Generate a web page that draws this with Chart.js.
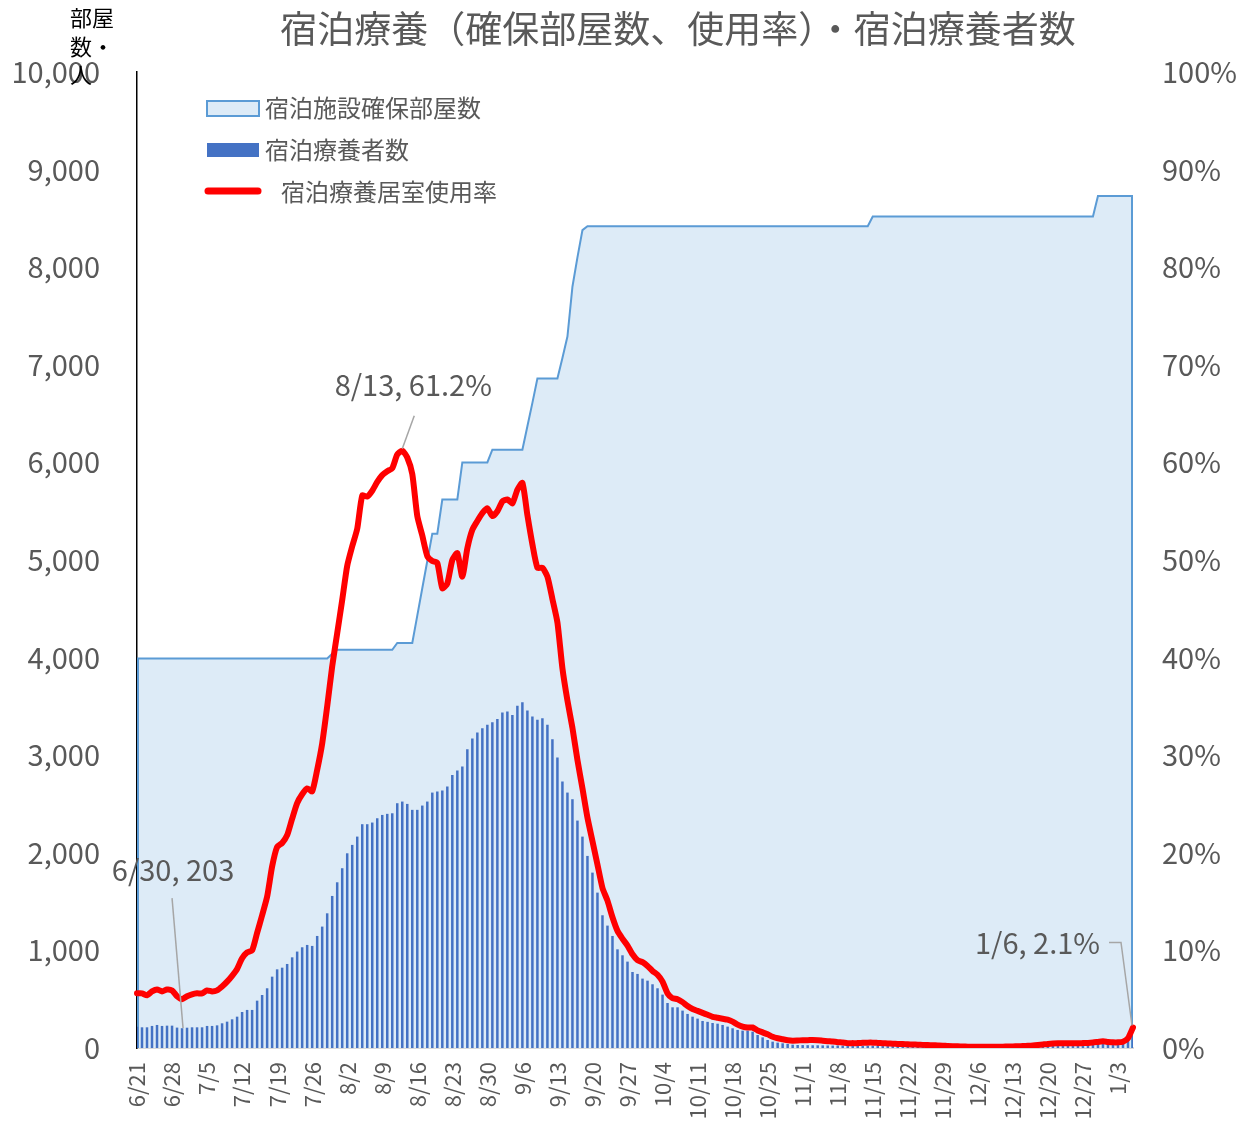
<!DOCTYPE html>
<html lang="ja">
<head>
<meta charset="utf-8">
<script src="https://cdn.jsdelivr.net/npm/chart.js@4.4.1/dist/chart.umd.min.js"></script>
<style>
  html, body { margin: 0; padding: 0; background: #fff; }
</style>
</head>
<body>
<canvas id="chart1" width="1237" height="1127"></canvas>
<script>
const FONT = "'Noto Sans CJK JP', 'Noto Sans', sans-serif";

// calendar: [month, first day, last day]
const monthSpans = [[6, 21, 30], [7, 1, 31], [8, 1, 31], [9, 1, 30], [10, 1, 31], [11, 1, 30], [12, 1, 31], [1, 1, 6]];
const dayLabels = [];
for (const [m, d0, d1] of monthSpans) {
    for (let d = d0; d <= d1; d++) dayLabels.push(m + '/' + d);
}

// 宿泊施設確保部屋数
const rooms = [
    3990, 3990, 3990, 3990, 3990, 3990, 3990, 3990, 3990, 3990, 3990, 3990, 3990, 3990, 3990, 3990, 3990, 3990, 3990, 3990,
    3990, 3990, 3990, 3990, 3990, 3990, 3990, 3990, 3990, 3990, 3990, 3990, 3990, 3990, 3990, 3990, 3990, 3990, 3990, 4040,
    4080, 4080, 4080, 4080, 4080, 4080, 4080, 4080, 4080, 4080, 4080, 4080, 4150, 4150, 4150, 4150, 4430, 4710, 4990, 5270,
    5270, 5620, 5620, 5620, 5620, 6000, 6000, 6000, 6000, 6000, 6000, 6130, 6130, 6130, 6130, 6130, 6130, 6130, 6370, 6610,
    6860, 6860, 6860, 6860, 6860, 7070, 7290, 7800, 8100, 8380, 8420, 8420, 8420, 8420, 8420, 8420, 8420, 8420, 8420, 8420,
    8420, 8420, 8420, 8420, 8420, 8420, 8420, 8420, 8420, 8420, 8420, 8420, 8420, 8420, 8420, 8420, 8420, 8420, 8420, 8420,
    8420, 8420, 8420, 8420, 8420, 8420, 8420, 8420, 8420, 8420, 8420, 8420, 8420, 8420, 8420, 8420, 8420, 8420, 8420, 8420,
    8420, 8420, 8420, 8420, 8420, 8420, 8420, 8520, 8520, 8520, 8520, 8520, 8520, 8520, 8520, 8520, 8520, 8520, 8520, 8520,
    8520, 8520, 8520, 8520, 8520, 8520, 8520, 8520, 8520, 8520, 8520, 8520, 8520, 8520, 8520, 8520, 8520, 8520, 8520, 8520,
    8520, 8520, 8520, 8520, 8520, 8520, 8520, 8520, 8520, 8520, 8520, 8520, 8730, 8730, 8730, 8730, 8730, 8730, 8730, 8730
];

// 宿泊療養者数
const patients = [
    219, 212, 212, 226, 236, 226, 229, 229, 209, 203,
    208, 212, 212, 212, 226, 226, 232, 253, 270, 294,
    321, 369, 390, 390, 485, 543, 612, 731, 806, 823,
    861, 929, 988, 1032, 1056, 1046, 1148, 1244, 1380, 1558,
    1698, 1842, 1995, 2081, 2166, 2293, 2293, 2310, 2354, 2388,
    2399, 2405, 2508, 2525, 2501, 2440, 2440, 2484, 2525, 2617,
    2627, 2638, 2679, 2798, 2843, 2884, 3061, 3171, 3232, 3277,
    3311, 3338, 3372, 3437, 3448, 3413, 3506, 3543, 3458, 3396,
    3362, 3379, 3311, 3164, 2976, 2730, 2617, 2549, 2330, 2166,
    1968, 1797, 1592, 1360, 1254, 1148, 1011, 950, 885, 779,
    759, 711, 690, 653, 612, 547, 461, 417, 417, 383,
    349, 321, 301, 277, 268, 256, 249, 236, 219, 202,
    185, 178, 178, 167, 133, 109, 82, 65, 55, 48,
    41, 34, 31, 30, 29, 28, 28, 27, 26, 25,
    25, 24, 24, 23, 23, 22, 22, 21, 21, 20,
    20, 19, 19, 18, 18, 17, 17, 16, 16, 16,
    15, 15, 15, 14, 14, 14, 14, 14, 14, 14,
    15, 15, 16, 16, 17, 18, 19, 20, 22, 24,
    27, 30, 33, 36, 38, 40, 41, 42, 43, 44,
    45, 47, 49, 52, 54, 50, 48, 52, 90, 183
];

// 宿泊療養居室使用率 (%)
const ratePct = [
    5.6, 5.6, 5.4, 5.8, 6.0, 5.8, 6.0, 5.9, 5.3, 5.0,
    5.3, 5.5, 5.6, 5.6, 5.9, 5.8, 5.9, 6.3, 6.8, 7.4,
    8.1, 9.2, 9.8, 10.0, 11.8, 13.6, 15.5, 18.6, 20.6, 21.0,
    21.8, 23.5, 25.1, 26.0, 26.6, 26.3, 28.5, 31.2, 35.0, 39.1,
    42.5, 45.9, 49.4, 51.4, 53.2, 56.6, 56.5, 57.1, 58.0, 58.7,
    59.1, 59.4, 60.8, 61.2, 60.5, 58.8, 54.5, 52.5, 50.4, 49.9,
    49.7, 47.1, 47.6, 50.0, 50.7, 48.3, 51.2, 53.1, 54.0, 54.8,
    55.3, 54.5, 55.0, 56.0, 56.2, 55.8, 57.2, 57.9, 54.6, 51.6,
    49.2, 49.2, 48.3, 46.0, 43.6, 38.9, 35.6, 32.8, 29.5, 26.6,
    23.6, 21.2, 18.8, 16.4, 15.1, 13.4, 12.0, 11.2, 10.5, 9.6,
    9.0, 8.8, 8.4, 7.9, 7.5, 6.8, 5.6, 5.1, 5.0, 4.7,
    4.3, 4.0, 3.8, 3.6, 3.4, 3.2, 3.1, 3.0, 2.9, 2.7,
    2.4, 2.2, 2.1, 2.1, 1.8, 1.6, 1.4, 1.15, 1.0, 0.9,
    0.8, 0.75, 0.77, 0.8, 0.8, 0.82, 0.8, 0.75, 0.7, 0.66,
    0.6, 0.56, 0.5, 0.5, 0.5, 0.53, 0.55, 0.55, 0.52, 0.49,
    0.46, 0.44, 0.42, 0.4, 0.38, 0.36, 0.34, 0.32, 0.3, 0.28,
    0.26, 0.24, 0.2, 0.18, 0.17, 0.15, 0.14, 0.14, 0.14, 0.14,
    0.14, 0.14, 0.14, 0.14, 0.15, 0.16, 0.18, 0.2, 0.22, 0.25,
    0.3, 0.36, 0.42, 0.46, 0.48, 0.48, 0.48, 0.48, 0.48, 0.5,
    0.52, 0.56, 0.62, 0.68, 0.62, 0.58, 0.58, 0.65, 1.0, 2.1
];

const titleText = '宿泊療養（確保部屋数、使用率）・宿泊療養者数';
const axisTitleLines = ['部屋', '数・', '人'];
const seriesNames = ['宿泊施設確保部屋数', '宿泊療養者数', '宿泊療養居室使用率'];

const GREY = '#595959';

// area side edges, drawn under the bars and line
const areaEdges = {
    id: 'areaEdges',
    beforeDatasetDraw(chart, args) {
        if (args.index !== 2) return;
        const pts = chart.getDatasetMeta(2).data;
        const base = chart.scales.y.getPixelForValue(0);
        const c = chart.ctx;
        c.save();
        c.strokeStyle = '#5b9bd5';
        c.lineWidth = 2;
        c.beginPath();
        c.moveTo(pts[0].x + 1, base);
        c.lineTo(pts[0].x + 1, pts[0].y);
        c.moveTo(pts[pts.length - 1].x - 1, base);
        c.lineTo(pts[pts.length - 1].x - 1, pts[pts.length - 1].y);
        c.stroke();
        c.restore();
    }
};

// title, legend and data callouts drawn on the canvas
const decorations = {
    id: 'decorations',
    afterDraw(chart) {
        const c = chart.ctx;
        c.save();

        c.fillStyle = GREY;
        c.font = '37px ' + FONT;
        c.textAlign = 'center';
        c.textBaseline = 'middle';
        c.fillText(titleText, 678, 29);

        c.fillStyle = '#000';
        c.font = '22px ' + FONT;
        c.textAlign = 'left';
        axisTitleLines.forEach((t, k) => c.fillText(t, 70, 18 + k * 28.5));

        // legend
        c.fillStyle = '#ddebf7';
        c.fillRect(207, 101, 52, 15);
        c.strokeStyle = '#5b9bd5';
        c.lineWidth = 2;
        c.strokeRect(207, 101, 52, 15);
        c.fillStyle = '#4472c4';
        c.fillRect(207, 143, 52, 14);
        c.strokeStyle = '#ff0000';
        c.lineWidth = 7;
        c.lineCap = 'round';
        c.beginPath();
        c.moveTo(208, 191);
        c.lineTo(258, 191);
        c.stroke();
        c.fillStyle = GREY;
        c.font = '24px ' + FONT;
        c.fillText(seriesNames[0], 265, 108);
        c.fillText(seriesNames[1], 265, 150);
        c.fillText(seriesNames[2], 281, 192);

        // callouts
        const rateMeta = chart.getDatasetMeta(0).data;
        const barMeta = chart.getDatasetMeta(1).data;
        c.lineWidth = 1.5;
        c.lineCap = 'butt';
        c.strokeStyle = '#a6a6a6';
        c.font = '29px ' + FONT;
        c.fillStyle = GREY;

        let p = rateMeta[53];
        c.beginPath();
        c.moveTo(p.x + 12, p.y - 35);
        c.lineTo(p.x, p.y - 2);
        c.stroke();
        c.textAlign = 'center';
        c.fillText(dayLabels[53] + ', ' + ratePct[53] + '%', p.x + 11, p.y - 66);

        p = barMeta[9];
        c.beginPath();
        c.moveTo(p.x - 10, p.y - 130);
        c.lineTo(p.x + 1, p.y);
        c.stroke();
        c.fillText(dayLabels[9] + ', ' + patients[9], p.x - 9, p.y - 158);

        p = rateMeta[199];
        c.beginPath();
        c.moveTo(p.x - 24, p.y - 85);
        c.lineTo(p.x - 12, p.y - 85);
        c.lineTo(p.x - 1, p.y - 2);
        c.stroke();
        c.textAlign = 'right';
        c.fillText(dayLabels[199] + ', ' + ratePct[199] + '%', p.x - 33, p.y - 85);

        c.restore();
    }
};

Chart.defaults.font.family = FONT;

const ctx = document.getElementById('chart1');
new Chart(ctx, {
    type: 'bar',
    data: {
        labels: dayLabels,
        datasets: [
            {
                type: 'line',
                label: seriesNames[2],
                data: ratePct,
                yAxisID: 'yRate',
                borderColor: '#ff0000',
                borderWidth: 6,
                borderJoinStyle: 'round',
                borderCapStyle: 'round',
                pointRadius: 0,
                tension: 0.2,
                fill: false,
                order: 1
            },
            {
                type: 'bar',
                label: seriesNames[1],
                data: patients,
                yAxisID: 'y',
                backgroundColor: '#4472c4',
                barPercentage: 0.5,
                categoryPercentage: 1,
                order: 2
            },
            {
                type: 'line',
                label: seriesNames[0],
                data: rooms,
                yAxisID: 'y',
                borderColor: '#5b9bd5',
                borderWidth: 2,
                backgroundColor: '#ddebf7',
                fill: 'origin',
                pointRadius: 0,
                tension: 0,
                order: 3
            }
        ]
    },
    options: {
        responsive: false,
        animation: false,
        layout: { padding: { top: 72 } },
        plugins: {
            legend: { display: false },
            tooltip: { enabled: false }
        },
        scales: {
            x: {
                offset: false,
                grid: { display: false, drawTicks: false },
                border: { color: '#d9d9d9', width: 2 },
                ticks: {
                    autoSkip: false,
                    minRotation: 90,
                    maxRotation: 90,
                    padding: 14,
                    color: GREY,
                    font: { size: 22 },
                    callback: (val, idx) => (idx % 7 === 0 ? dayLabels[idx] : '')
                },
                afterFit: (s) => { s.height = 79; }
            },
            y: {
                position: 'left',
                min: 0,
                max: 10000,
                z: 1,
                grid: { display: false, drawTicks: false },
                border: { color: '#000', width: 1.5 },
                ticks: {
                    stepSize: 1000,
                    padding: 37,
                    color: GREY,
                    font: { size: 29 },
                    callback: (v) => v.toLocaleString('en-US')
                },
                afterFit: (s) => { s.width = 137; }
            },
            yRate: {
                position: 'right',
                min: 0,
                max: 100,
                grid: { display: false, drawTicks: false },
                border: { display: false },
                ticks: {
                    stepSize: 10,
                    padding: 29,
                    color: GREY,
                    font: { size: 29 },
                    callback: (v) => v + '%'
                },
                afterFit: (s) => { s.width = 104; }
            }
        }
    },
    plugins: [areaEdges, decorations]
});
</script>
</body>
</html>
